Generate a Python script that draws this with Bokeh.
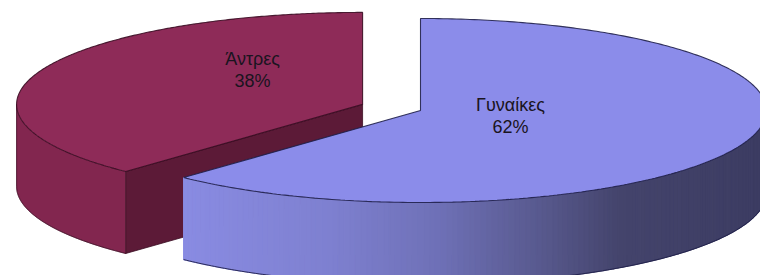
import numpy as np
from bokeh.plotting import figure
from bokeh.models import Range1d
from bokeh.embed import file_html
from bokeh.resources import INLINE
from bokeh.core.properties import value

# ---- data ----
categories = ["Γυναίκες", "Άντρες"]
shares = [62, 38]
pct_labels = ["62%", "38%"]

# ---- styles ----
top_colors = ["#8B8CEA", "#8E2B58"]
side_colors = [None, "#82264F"]          # blue side uses a gradient
cut_colors = ["#3F3F66", "#5C1A37"]
edge_colors = ["#20204A", "#3A0C22"]
explode = [0.0, 0.18]

# ---- geometry (screen pixels, y downward) ----
CX, CY = 420.0, 110.0
RX, RY = 346.0, 92.0
DEPTH = 82.0
START = 90.0  # degrees, slices go clockwise

W, H = 760, 275
p = figure(width=W, height=H, output_backend="svg", toolbar_location=None,
           x_range=Range1d(0, 760), y_range=Range1d(275, 0),
           x_axis_location=None, y_axis_location=None, min_border=0)
p.grid.visible = False
p.outline_line_color = None
p.background_fill_color = "white"
p.border_fill_color = "white"

total = float(sum(shares))


def pt(cx, cy, ang_deg, dz=0.0):
    a = np.radians(ang_deg)
    return cx + RX * np.cos(a), cy - RY * np.sin(a) + dz


def arc(cx, cy, a0, a1, dz=0.0, n=200):
    angs = np.linspace(a0, a1, n)
    xs, ys = pt(cx, cy, angs, dz)
    return list(xs), list(ys)


# compute slices (clockwise from START)
slices = []
a = START
for i, v in enumerate(shares):
    span = 360.0 * v / total
    a_hi, a_lo = a, a - span          # slice spans [a_lo, a_hi]
    mid = (a_hi + a_lo) / 2.0
    ox, oy = pt(0, 0, mid)
    cx = CX + explode[i] * ox
    cy = CY + explode[i] * oy
    slices.append(dict(i=i, lo=a_lo, hi=a_hi, mid=mid, cx=cx, cy=cy))
    a = a_lo


def gradient_color(x):
    stops = [(185, (137, 139, 226)), (330, (126, 128, 208)), (440, (110, 112, 182)),
             (540, (88, 89, 142)), (620, (68, 68, 108)), (760, (60, 60, 98))]
    if x <= stops[0][0]:
        c = stops[0][1]
    elif x >= stops[-1][0]:
        c = stops[-1][1]
    else:
        for (x0, c0), (x1, c1) in zip(stops[:-1], stops[1:]):
            if x0 <= x <= x1:
                t = (x - x0) / (x1 - x0)
                c = tuple(int(round(c0[k] + t * (c1[k] - c0[k]))) for k in range(3))
                break
    return "#%02x%02x%02x" % c


def draw_slice(s):
    i, cx, cy = s["i"], s["cx"], s["cy"]
    lo, hi = s["lo"], s["hi"]
    ec = edge_colors[i]
    lo_n, hi_n = lo % 360, (lo % 360) + (hi - lo)
    vis = []
    for base in (0, 360, -360):
        v0 = max(lo_n, 180 + base)
        v1 = min(hi_n, 360 + base)
        if v1 > v0:
            vis.append((v0, v1))
    for (v0, v1) in vis:
        if side_colors[i] is None:
            n = 140
            angs = np.linspace(v0, v1, n + 1)
            xs_l, ys_l, cols = [], [], []
            for k in range(n):
                x0, y0 = pt(cx, cy, angs[k])
                x1, y1 = pt(cx, cy, angs[k + 1])
                xs_l.append([x0, x1, x1, x0])
                ys_l.append([y0, y1, y1 + DEPTH, y0 + DEPTH])
                cols.append(gradient_color((x0 + x1) / 2))
            p.patches(xs_l, ys_l, fill_color=cols, line_color=cols, line_width=1.2)
        else:
            tx, ty = arc(cx, cy, v0, v1)
            bx, by = arc(cx, cy, v0, v1, DEPTH)
            p.patch(tx + bx[::-1], ty + by[::-1], fill_color=side_colors[i],
                    line_color=side_colors[i], line_width=0.5)
        bx, by = arc(cx, cy, v0, v1, DEPTH)
        p.line(bx, by, line_color=ec, line_width=1, line_alpha=0.9)
        for vv in (v0, v1):
            x0, y0 = pt(cx, cy, vv)
            if 181 < (vv % 360) < 359:
                continue
            p.line([x0, x0], [y0, y0 + DEPTH], line_color=ec, line_width=1, line_alpha=0.7)
    for edge, nrm in ((hi, hi + 90), (lo, lo - 90)):
        if np.sin(np.radians(nrm)) < -1e-6:
            rx_, ry_ = pt(cx, cy, edge)
            xs = [cx, rx_, rx_, cx]
            ys = [cy, ry_, ry_ + DEPTH, cy + DEPTH]
            p.patch(xs, ys, fill_color=cut_colors[i], line_color=ec, line_width=1, line_alpha=0.8)
    tx, ty = arc(cx, cy, hi, lo, n=300)
    p.patch([cx] + tx + [cx], [cy] + ty + [cy], fill_color=top_colors[i],
            line_color=ec, line_width=1.1, line_alpha=0.9)


for s in sorted(slices, key=lambda s: -s["i"]):
    draw_slice(s)

# ---- labels ----
label_offsets = [(90.0, 5.0), (-110.0, -34.0)]
for s in slices:
    i = s["i"]
    lx = s["cx"] + label_offsets[i][0]
    ly = s["cy"] + label_offsets[i][1]
    p.text(x=[lx, lx], y=[ly - 11, ly + 11], text=[categories[i], pct_labels[i]],
           text_align="center", text_baseline="middle",
           text_font=value("Liberation Sans"), text_font_size="18px",
           text_color="#1a1420")

open("out.html", "w").write(file_html(p, INLINE))
